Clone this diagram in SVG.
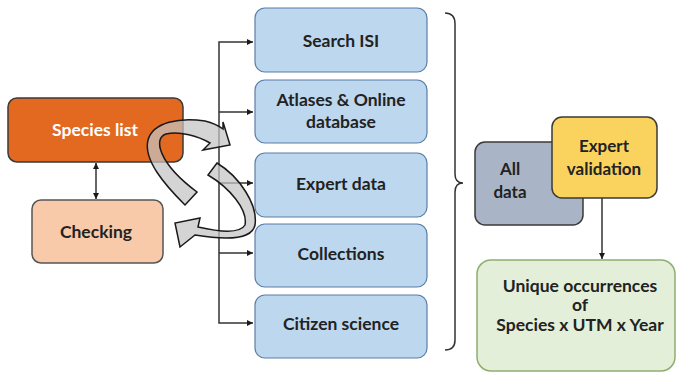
<svg xmlns="http://www.w3.org/2000/svg" width="679" height="374" viewBox="0 0 679 374">
<defs>
<marker id="ah" viewBox="0 0 10 10" refX="10" refY="5" markerWidth="6" markerHeight="6" markerUnits="userSpaceOnUse" orient="auto-start-reverse">
<path d="M0,0 L10,5 L0,10 Z" fill="#1a1a1a"/>
</marker>
<style>
text{font-family:Lato,"Open Sans","Liberation Sans",sans-serif;font-weight:bold;font-size:17.5px;text-anchor:middle;fill:#222}
.blue{fill:#BDD7EE;stroke:#5B7FA6;stroke-width:1.2}
.conn{fill:none;stroke:#333;stroke-width:1.5}
.cyc{fill:#C4C4C4;fill-opacity:0.72;stroke:#1a1a1a;stroke-width:1.5;stroke-linejoin:miter}
.mid{font-size:17px}
</style>
</defs>
<rect width="679" height="374" fill="#FFFFFF"/>

<g id="connectors">
<path class="conn" d="M253,42 H219 V323 H253" marker-start="url(#ah)" marker-end="url(#ah)"/>
<line class="conn" x1="219" y1="112" x2="253" y2="112" marker-end="url(#ah)"/>
<line class="conn" x1="219" y1="183" x2="253" y2="183" marker-end="url(#ah)"/>
<line class="conn" x1="219" y1="253" x2="253" y2="253" marker-end="url(#ah)"/>
<line class="conn" x1="96" y1="163" x2="96" y2="199" marker-start="url(#ah)" marker-end="url(#ah)"/>
<line class="conn" x1="602" y1="198" x2="602" y2="259" marker-end="url(#ah)"/>
<path class="conn" d="M445,13 C452,13 455,17 455,24 V174 C455,180 458,183 463,183 C458,183 455,186 455,192 V340 C455,347 452,350 445,350"/>
</g>

<g id="species-list">
<rect x="8" y="98" width="175" height="64" rx="9" fill="#E2691F" stroke="#3a3a3a" stroke-width="1.5"/>
<text x="95" y="136" style="fill:#FFFFFF">Species list</text>
</g>
<g id="checking">
<rect x="32" y="200" width="131" height="63" rx="9" fill="#F8CAAA" stroke="#555" stroke-width="1.5"/>
<text x="96" y="238">Checking</text>
</g>

<g id="search-isi">
<rect class="blue" x="255" y="8" width="172" height="64" rx="10"/>
<text x="341" y="47">Search ISI</text>
</g>
<g id="atlases">
<rect class="blue" x="255" y="80" width="172" height="63" rx="10"/>
<text x="341" y="106">Atlases &amp; Online</text>
<text x="341" y="128">database</text>
</g>
<g id="expert-data">
<rect class="blue" x="255" y="153" width="172" height="64" rx="10"/>
<text x="341" y="190">Expert data</text>
</g>
<g id="collections">
<rect class="blue" x="255" y="224" width="172" height="63" rx="10"/>
<text x="341" y="260">Collections</text>
</g>
<g id="citizen-science">
<rect class="blue" x="255" y="295" width="172" height="63" rx="10"/>
<text x="341" y="330">Citizen science</text>
</g>

<g id="all-data">
<rect x="475" y="142" width="108" height="83" rx="10" fill="#A9B5C7" stroke="#3a3a3a" stroke-width="1.5"/>
<text class="mid" x="510" y="175">All</text>
<text class="mid" x="510" y="198">data</text>
</g>
<g id="expert-validation">
<rect x="552" y="117" width="105" height="81" rx="10" fill="#F9D35E" stroke="#3a3a3a" stroke-width="1.5"/>
<text class="mid" x="604" y="152">Expert</text>
<text class="mid" x="604" y="175">validation</text>
</g>
<g id="unique-occurrences">
<rect x="477" y="260" width="198" height="111" rx="14" fill="#E3EFD9" stroke="#8FAE6E" stroke-width="1.5"/>
<text x="580" y="292">Unique occurrences</text>
<text x="580" y="311">of</text>
<text x="580" y="331">Species x UTM x Year</text>
</g>

<g id="cycle-arrows">
<path class="cyc" d="M185,205 C165,185 143,160 148,140 C153,122 180,117 205,121 C213,123 219,126 223,129 L223,122 L230,145 L203,150 L210,143 C198,136 180,131 166,134 C153,138 158,163 197,192 Z"/>
<path class="cyc" d="M217,163 C240,177 258,205 255,225 C252,240 225,240 195,235 L180,247 L175,223 L200,218 L198,227 C220,232 240,234 245,225 C248,210 230,188 208,175 Z"/>
</g>
</svg>
